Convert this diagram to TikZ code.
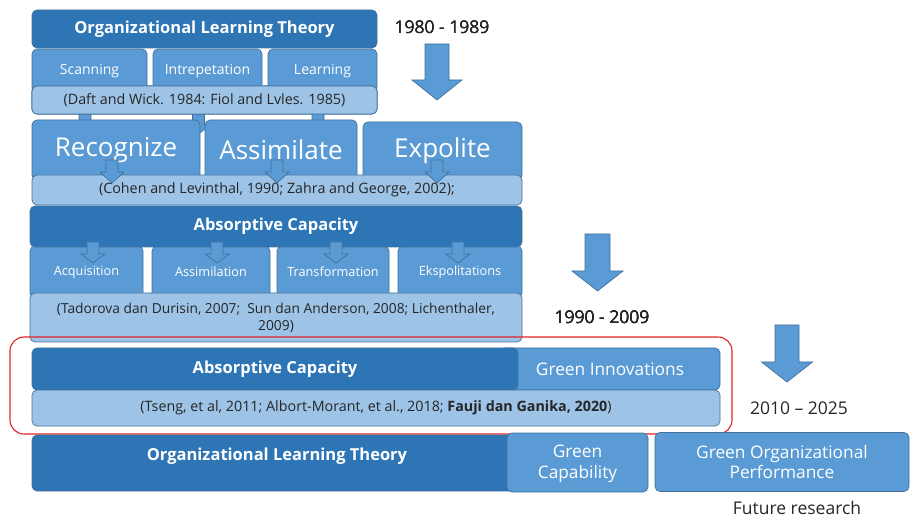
\documentclass[tikz,border=0pt]{standalone}
\usepackage{fontspec}
\setmainfont{Open Sans}
\definecolor{darkfill}{HTML}{2E75B6}
\definecolor{midfill}{HTML}{5B9BD5}
\definecolor{lightfill}{HTML}{9DC3E6}
\definecolor{boxline}{HTML}{41719C}
\definecolor{frame}{HTML}{E02424}
\tikzset{
	base/.style={rounded corners=5pt, draw=boxline, line width=0.7pt, inner sep=0pt, align=center},
	darkbar/.style={base, fill=darkfill, text=white, font=\fontsize{16.5}{19}\selectfont\bfseries},
	midbox/.style={base, fill=midfill, text=white, font=\fontsize{14}{17}\selectfont},
	bigbox/.style={midbox, font=\fontsize{26}{30}\selectfont},
	stepbox/.style={midbox, font=\fontsize{12.7}{15}\selectfont},
	greenbox/.style={midbox, font=\fontsize{17.3}{20.5}\selectfont},
	citebox/.style={base, fill=lightfill, text=black!85, font=\fontsize{14.3}{17}\selectfont},
	era/.style={text=black!85, font=\fontsize{17.5}{20}\selectfont},
	blockarrow/.style={fill=midfill, draw=boxline, line width=0.7pt, line join=miter}
}
% down arrow: x centre, top, neck, tip, half shaft, half head
\newcommand{\dnarrow}[6]{%
	\draw[blockarrow] (#1-#5,#2) -- (#1+#5,#2) -- (#1+#5,#3) -- (#1+#6,#3) -- (#1,#4)
		-- (#1-#6,#3) -- (#1-#5,#3) -- cycle;}
\begin{document}
\begin{tikzpicture}[x=1pt, y=-1pt]
	\useasboundingbox (0,0) rectangle (910,518);
	% 1980 - 1989
	\node[midbox, minimum width=115pt, minimum height=44pt] (scan) at (89.5,71) {Scanning};
	\node[midbox, minimum width=109pt, minimum height=44pt] (intr) at (207.5,71) {Intrepetation};
	\node[midbox, minimum width=109pt, minimum height=44pt] (lear) at (322.5,71) {Learning};
	\node[darkbar, minimum width=345pt, minimum height=38pt] (olt) at (204.5,29) {Organizational Learning Theory};
	\foreach \cx in {85,198.5,318} \dnarrow{\cx}{113}{125}{134}{6}{12}
	\node[citebox, minimum width=345pt, minimum height=28pt] (daft) at (204.5,100) {(Daft and Wick. 1984: Fiol and Lvles. 1985)};
	\node[bigbox, minimum width=168pt, minimum height=60pt] (recog) at (116,150) {Recognize};
	\node[bigbox, minimum width=152pt, minimum height=60pt] (assim) at (281,150) {Assimilate};
	\node[bigbox, minimum width=159pt, minimum height=58pt] (expo) at (442.5,151) {Expolite};
	\node[citebox, minimum width=490pt, minimum height=30pt] (cohen) at (277,190) {(Cohen and Levinthal, 1990; Zahra and George, 2002);};
	\foreach \cx in {112,277,437} \dnarrow{\cx}{160}{172}{183}{6}{12}
	\node[era] (y1) at (442,27) {1980 - 1989};
	\dnarrow{437}{44}{80}{100}{12}{25}
	% 1990 - 2009
	\node[stepbox, minimum width=113pt, minimum height=52pt] (acq) at (86.5,272) {Acquisition};
	\node[stepbox, minimum width=118pt, minimum height=52pt] (asl) at (211,272) {Assimilation};
	\node[stepbox, minimum width=112pt, minimum height=52pt] (trf) at (333,272) {Transformation};
	\node[stepbox, minimum width=124pt, minimum height=52pt] (eks) at (460,272) {Ekspolitations};
	\node[darkbar, minimum width=492pt, minimum height=41pt] (acap) at (276,226.5) {Absorptive Capacity};
	\node[citebox, font=\fontsize{13.8}{17}\selectfont, minimum width=492pt, minimum height=49pt] (tado) at (276,317.5) {(Tadorova dan Durisin, 2007;\ \ Sun dan Anderson, 2008; Lichenthaler,\\ 2009)};
	\foreach \cx in {93,217,336,458} \dnarrow{\cx}{242}{254}{263}{6}{12}
	\node[era] (y2) at (602,317) {1990 - 2009};
	\dnarrow{597.5}{234}{271}{291}{12.5}{25.5}
	% 2010 - 2025
	\node[greenbox, minimum width=220pt, minimum height=42pt] (ginn) at (610,369) {Green Innovations};
	\node[darkbar, minimum width=486pt, minimum height=42pt] (acap2) at (275,369) {Absorptive Capacity};
	\node[citebox, minimum width=688pt, minimum height=36pt] (tseng) at (376,408) {(Tseng, et al, 2011; Albort-Morant, et al., 2018; \textbf{Fauji dan Ganika, 2020})};
	\draw[frame, line width=1.1pt, rounded corners=14pt] (10,337) rectangle (732,434);
	\node[era] (y3) at (799,408) {2010 -- 2025};
	\dnarrow{787}{325}{362}{382}{12}{25.5}
	% future research
	\node[darkbar, minimum width=488pt, minimum height=56pt] (olt2) at (276,463) {};
	\node[text=white, font=\fontsize{16.5}{19}\selectfont\bfseries] (olt2t) at (277,456) {Organizational Learning Theory};
	\node[greenbox, minimum width=141pt, minimum height=59pt, text depth=2pt] (gcap) at (577.5,462.5) {Green\\Capability};
	\node[greenbox, minimum width=254pt, minimum height=59pt] (gop) at (782,462) {Green Organizational\\Performance};
	\node[era] (fut) at (797,508) {Future research};
\end{tikzpicture}
\end{document}
